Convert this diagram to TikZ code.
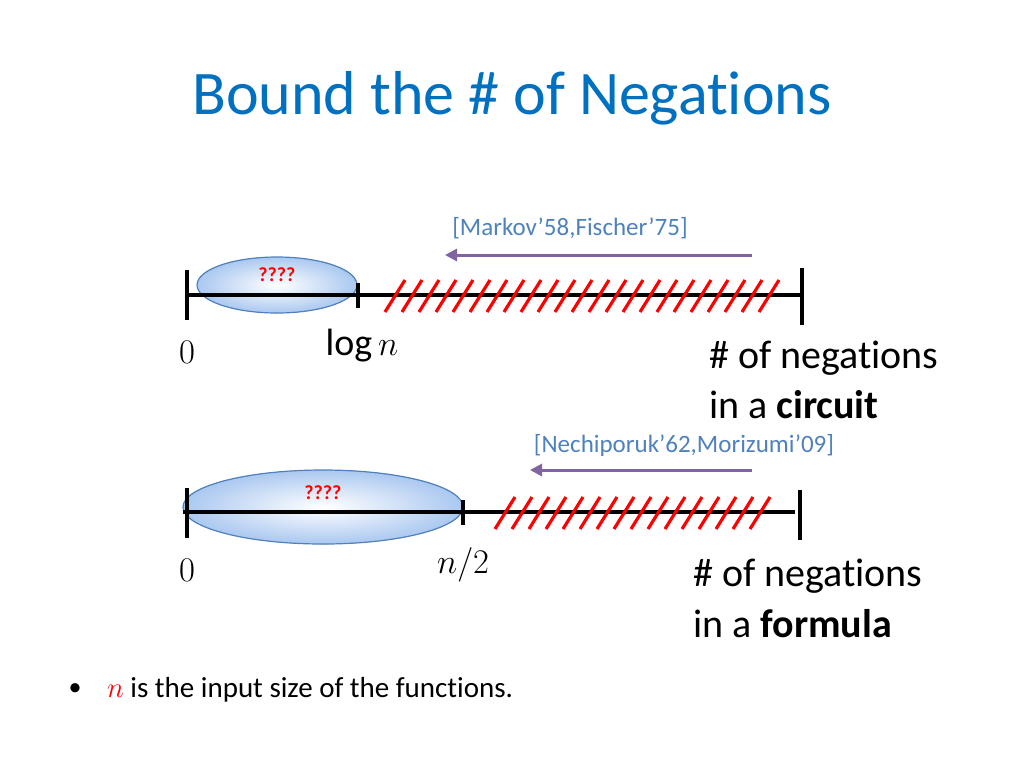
\documentclass[tikz,border=0pt]{standalone}
\usepackage{fontspec}
\setmainfont[Ligatures=CommonOff]{Carlito}
\usetikzlibrary{arrows.meta}
\definecolor{titleblue}{RGB}{0,112,192}
\definecolor{citeblue}{RGB}{79,129,189}
\definecolor{arrowpurple}{RGB}{128,100,162}
\definecolor{ovalfill}{RGB}{170,200,240}
\tikzset{
  axis/.style={line width=2pt},
  tick/.style={line width=2pt},
  oval/.style={draw=citeblue, line width=0.6pt, inner color=white, outer color=ovalfill},
  hatch/.style={red, line width=1.6pt},
  cite/.style={citeblue, font=\fontsize{12.5}{15}\selectfont},
  refarrow/.style={arrowpurple, line width=1.5pt, -{Triangle[length=6pt,width=6pt]}},
  qmark/.style={red, font=\fontsize{10}{12}\selectfont\bfseries},
  numlabel/.style={font=\fontsize{19}{22}\selectfont},
  caption/.style={anchor=west, font=\fontsize{20}{24}\selectfont}
}
\begin{document}
\begin{tikzpicture}[x=0.5pt, y=-0.5pt]
		\useasboundingbox (0,0) rectangle (1024,768);
		\node[titleblue, font=\fontsize{31}{37}\selectfont] (title) at (512,98) {Bound the \# of Negations};
		% circuit line
		\fill[oval] (277,285) ellipse[x radius=80, y radius=28];
		\node[qmark] (q1) at (277,275) {????};
		\coordinate (a0) at (187,295);
		\coordinate (a1) at (802,295);
		\draw[axis] (a0) -- (a1);
		\draw[tick] (187,270) -- (187,320);
		\draw[tick] (358,283) -- (358,308);
		\draw[tick] (802,268) -- (802,325);
		\foreach \x in {385,402,...,760} \draw[hatch] (\x,312) -- (\x+20,280);
		\coordinate (r0) at (752,255);
		\coordinate (r1) at (445,255);
		\draw[refarrow] (r0) -- (r1);
		\node[cite] (c1) at (570,228) {[Markov’58,Fischer’75]};
		\node[numlabel] (z1) at (187,352) {$0$};
		\node[numlabel] (l1) at (362,346) {$\log n$};
		\node[caption] (n1) at (702,358) {\# of negations};
		\node[caption] (m1) at (702,405) {in a \textbf{circuit}};
		% formula line
		\fill[oval] (323,507) ellipse[x radius=140, y radius=37];
		\node[qmark] (q2) at (323,493) {????};
		\coordinate (b0) at (183,512);
		\coordinate (b1) at (795,512);
		\draw[axis] (b0) -- (b1);
		\draw[tick] (187,488) -- (187,538);
		\draw[tick] (463,500) -- (463,525);
		\draw[tick] (800,490) -- (800,540);
		\foreach \x in {495,512,...,760} \draw[hatch] (\x,529) -- (\x+20,497);
		\coordinate (s0) at (752,470);
		\coordinate (s1) at (530,470);
		\draw[refarrow] (s0) -- (s1);
		\node[cite] (c2) at (684,445) {[Nechiporuk’62,Morizumi’09]};
		\node[numlabel] (z2) at (187,570) {$0$};
		\node[numlabel] (l2) at (463,565) {$n/2$};
		\node[caption] (n2) at (686,576) {\# of negations};
		\node[caption] (m2) at (686,624) {in a \textbf{formula}};
		% bullet
		\node[font=\fontsize{13}{15}\selectfont] (dot) at (75,690) {•};
		\node[anchor=west, font=\fontsize{14.5}{17}\selectfont] (note) at (100,690) {{\color{red}$n$} is the input size of the functions.};
	\end{tikzpicture}
\end{document}
